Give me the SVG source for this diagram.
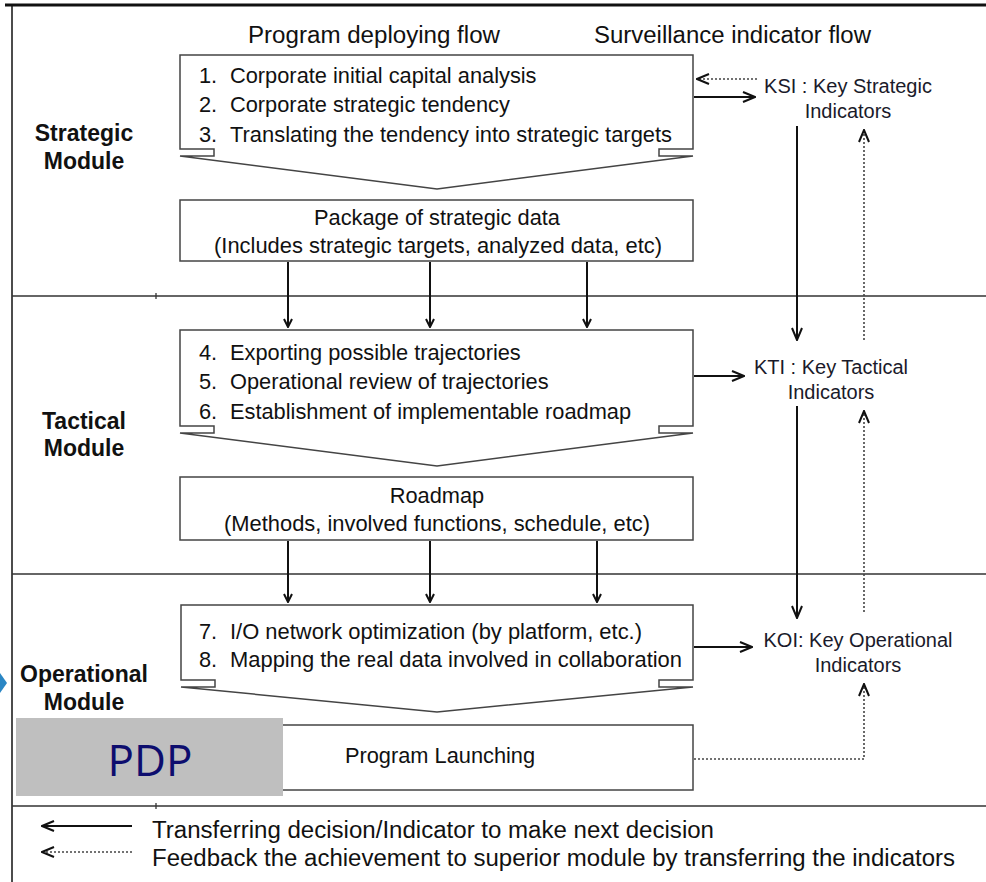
<svg xmlns="http://www.w3.org/2000/svg" width="986" height="882" viewBox="0 0 986 882">
  <style>
    .frame { stroke: #111; fill: none; }
    .sep { stroke: #333; stroke-width: 1.3; fill: none; }
    .box { fill: #fff; stroke: #444; stroke-width: 1.5; }
    .t { font-family: "Liberation Sans", Arial, sans-serif; font-size: 21.8px; fill: #111; }
    .mod { font-family: "Liberation Sans", Arial, sans-serif; font-size: 23px; font-weight: bold; fill: #111; text-anchor: middle; }
    .hdr { font-family: "Liberation Sans", Arial, sans-serif; font-size: 23px; fill: #111; }
    .ind { font-family: "Liberation Sans", Arial, sans-serif; font-size: 20px; fill: #1a1a2a; text-anchor: middle; }
    .solid { stroke: #111; stroke-width: 2; fill: none; }
    .dot { stroke: #444; stroke-width: 1.6; stroke-dasharray: 2 2; fill: none; }
    .c { text-anchor: middle; }
  </style>
  <defs>
    <marker id="open" viewBox="0 0 14 12" refX="13" refY="6" markerWidth="14" markerHeight="12" markerUnits="userSpaceOnUse" orient="auto">
      <path d="M1,1 L13,6 L1,11" fill="none" stroke="#111" stroke-width="2"/>
    </marker>
    <marker id="small" viewBox="0 0 10 10" refX="9" refY="5" markerWidth="10" markerHeight="10" markerUnits="userSpaceOnUse" orient="auto">
      <path d="M1,1 L9,5 L1,9" fill="none" stroke="#111" stroke-width="2"/>
    </marker>
  </defs>

  <rect width="986" height="882" fill="#fff"/>

  <!-- outer frame and module separators -->
  <g id="frame">
    <line class="frame" x1="5" y1="5" x2="986" y2="5" stroke-width="3"/>
    <line class="frame" x1="12" y1="5" x2="12" y2="882" stroke-width="1.5"/>
    <line class="sep" x1="12" y1="296" x2="986" y2="296"/>
    <line class="sep" x1="12" y1="574" x2="986" y2="574"/>
    <line class="sep" x1="12" y1="806" x2="986" y2="806"/>
    <line class="sep" x1="156" y1="293" x2="156" y2="299"/>
    <line class="sep" x1="156" y1="803" x2="156" y2="809"/>
    <polygon points="0,673 7,683 0,693" fill="#2a86c4"/>
  </g>

  <!-- column headers -->
  <g id="headers">
    <text class="hdr" x="248" y="43" textLength="252" lengthAdjust="spacingAndGlyphs">Program deploying flow</text>
    <text class="hdr" x="594" y="43" textLength="277" lengthAdjust="spacingAndGlyphs">Surveillance indicator flow</text>
  </g>

  <!-- module labels -->
  <g id="module-strategic">
    <text class="mod" x="84" y="141">Strategic</text>
    <text class="mod" x="84" y="169">Module</text>
  </g>
  <g id="module-tactical">
    <text class="mod" x="84" y="429">Tactical</text>
    <text class="mod" x="84" y="456">Module</text>
  </g>
  <g id="module-operational">
    <text class="mod" x="84" y="682" font-size="22">Operational</text>
    <text class="mod" x="84" y="710" font-size="22">Module</text>
  </g>

  <!-- connectors -->
  <g id="connectors">
    <!-- data packages into the next module -->
    <line class="solid" x1="288" y1="262" x2="288" y2="327" marker-end="url(#small)"/>
    <line class="solid" x1="430" y1="262" x2="430" y2="327" marker-end="url(#small)"/>
    <line class="solid" x1="587" y1="262" x2="587" y2="327" marker-end="url(#small)"/>
    <line class="solid" x1="288" y1="541" x2="288" y2="602" marker-end="url(#small)"/>
    <line class="solid" x1="430" y1="541" x2="430" y2="602" marker-end="url(#small)"/>
    <line class="solid" x1="597" y1="541" x2="597" y2="602" marker-end="url(#small)"/>

    <!-- decisions out to indicators -->
    <line class="dot" x1="757" y1="79" x2="697" y2="79" marker-end="url(#open)"/>
    <line class="solid" x1="694" y1="97" x2="755" y2="97" marker-end="url(#open)"/>
    <line class="solid" x1="694" y1="376" x2="744" y2="376" marker-end="url(#open)"/>
    <line class="solid" x1="694" y1="647" x2="752" y2="647" marker-end="url(#open)"/>

    <!-- indicators passed down -->
    <line class="solid" x1="797" y1="126" x2="797" y2="340" marker-end="url(#open)"/>
    <line class="solid" x1="797" y1="406" x2="797" y2="618" marker-end="url(#open)"/>

    <!-- feedback up -->
    <line class="dot" x1="864" y1="340" x2="864" y2="130" marker-end="url(#open)"/>
    <line class="dot" x1="864" y1="612" x2="864" y2="411" marker-end="url(#open)"/>
    <polyline class="dot" points="694,759 864,759 864,684" marker-end="url(#open)"/>
  </g>

  <!-- strategic module -->
  <g id="step-1-3">
    <path class="box" d="M180,55 H693 V149 H659 V156 H693 L437,189 L180,156 H214 V149 H180 Z"/>
    <text class="t" x="199" y="83">1.</text>
    <text class="t" x="230" y="83">Corporate initial capital analysis</text>
    <text class="t" x="199" y="112">2.</text>
    <text class="t" x="230" y="112">Corporate strategic tendency</text>
    <text class="t" x="199" y="142">3.</text>
    <text class="t" x="230" y="142" textLength="442" lengthAdjust="spacingAndGlyphs">Translating the tendency into strategic targets</text>
  </g>
  <g id="strategic-data">
    <rect class="box" x="180" y="200" width="513" height="61"/>
    <text class="t c" x="437" y="225">Package of strategic data</text>
    <text class="t c" x="438" y="253" textLength="448" lengthAdjust="spacingAndGlyphs">(Includes strategic targets, analyzed data, etc)</text>
  </g>
  <g id="ksi">
    <text class="ind" x="848" y="93">KSI : Key Strategic</text>
    <text class="ind" x="848" y="118">Indicators</text>
  </g>

  <!-- tactical module -->
  <g id="step-4-6">
    <path class="box" d="M180,330 H693 V426 H659 V433 H693 L437,466 L180,433 H214 V426 H180 Z"/>
    <text class="t" x="199" y="360">4.</text>
    <text class="t" x="230" y="360">Exporting possible trajectories</text>
    <text class="t" x="199" y="389">5.</text>
    <text class="t" x="230" y="389">Operational review of trajectories</text>
    <text class="t" x="199" y="419">6.</text>
    <text class="t" x="230" y="419">Establishment of implementable roadmap</text>
  </g>
  <g id="roadmap">
    <rect class="box" x="180" y="477" width="513" height="63"/>
    <text class="t c" x="437" y="503">Roadmap</text>
    <text class="t c" x="437" y="531" textLength="426" lengthAdjust="spacingAndGlyphs">(Methods, involved functions, schedule, etc)</text>
  </g>
  <g id="kti">
    <text class="ind" x="831" y="374">KTI : Key Tactical</text>
    <text class="ind" x="831" y="399">Indicators</text>
  </g>

  <!-- operational module -->
  <g id="step-7-8">
    <path class="box" d="M181,605 H693 V680 H659 V687 H693 L437,712 L181,687 H215 V680 H181 Z"/>
    <text class="t" x="199" y="639">7.</text>
    <text class="t" x="230" y="639" textLength="412" lengthAdjust="spacingAndGlyphs">I/O network optimization (by platform, etc.)</text>
    <text class="t" x="199" y="667">8.</text>
    <text class="t" x="230" y="667" textLength="452" lengthAdjust="spacingAndGlyphs">Mapping the real data involved in collaboration</text>
  </g>
  <g id="program-launching">
    <rect class="box" x="180" y="725" width="513" height="65"/>
    <text class="t c" x="440" y="763">Program Launching</text>
  </g>
  <g id="koi">
    <text class="ind" x="858" y="647">KOI: Key Operational</text>
    <text class="ind" x="858" y="672">Indicators</text>
  </g>

  <!-- PDP tag -->
  <g id="pdp">
    <rect x="16" y="718" width="267" height="78" fill="#bfbfbf"/>
    <text x="150" y="776" text-anchor="middle" font-family="'Open Sans', 'Noto Sans', sans-serif" font-size="44" fill="#0d0d6e">PDP</text>
  </g>

  <!-- legend -->
  <g id="legend">
    <line class="solid" x1="132" y1="826" x2="42" y2="826" marker-end="url(#open)"/>
    <text class="hdr" x="152" y="838" textLength="562" lengthAdjust="spacingAndGlyphs">Transferring decision/Indicator to make next decision</text>
    <line class="dot" x1="132" y1="852" x2="42" y2="852" marker-end="url(#open)"/>
    <text class="hdr" x="152" y="866" textLength="803" lengthAdjust="spacingAndGlyphs">Feedback the achievement to superior module by transferring the indicators</text>
  </g>
</svg>
